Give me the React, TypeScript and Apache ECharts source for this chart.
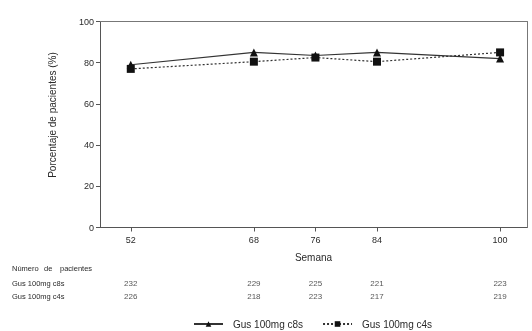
import React, { useEffect, useRef } from "react";
import * as echarts from "echarts";

const weeks = [52, 68, 76, 84, 100];
const c8sPct = [79, 85, 83.5, 85, 82];
const c4sPct = [77, 80.5, 82.5, 80.5, 85];
const c8sN = [232, 229, 225, 221, 223];
const c4sN = [226, 218, 223, 217, 219];
const seriesNames = ["Gus 100mg c8s", "Gus 100mg c4s"];

const FONT = "Liberation Sans, Arial, sans-serif";
const TXT = "#2a2a2a";
const AX = "#555";

export default function App() {
  const ref = useRef<HTMLDivElement>(null);
  useEffect(() => {
    if (!ref.current) return;
    const chart = echarts.init(ref.current, null, { renderer: "svg" });
    const tableData: any[] = [];
    weeks.forEach((w, i) => {
      tableData.push([w, seriesNames[0], c8sN[i]]);
      tableData.push([w, seriesNames[1], c4sN[i]]);
    });
    const frameAxis = {
      axisLine: { show: true, onZero: false, lineStyle: { color: "#777", width: 1 } },
      axisTick: { show: false },
      axisLabel: { show: false },
      splitLine: { show: false },
    };
    chart.setOption({
      animation: false,
      textStyle: { fontFamily: FONT, color: TXT },
      grid: [
        { left: 100, width: 427, top: 21.5, height: 206 },
        { left: 100, width: 427, top: 277, height: 26 },
      ],
      xAxis: [
        {
          type: "value",
          gridIndex: 0,
          min: 48,
          max: 103.5,
          name: "Semana",
          nameLocation: "middle",
          nameGap: 25,
          nameTextStyle: { fontSize: 10, color: TXT, fontFamily: FONT },
          splitLine: { show: false },
          axisLine: { show: true, onZero: false, lineStyle: { color: AX, width: 1 } },
          axisTick: {
            show: true,
            length: 4,
            customValues: weeks,
            lineStyle: { color: AX },
          },
          axisLabel: {
            customValues: weeks,
            fontSize: 9,
            color: TXT,
            margin: 8,
            fontFamily: FONT,
          },
        },
        {
          type: "value",
          gridIndex: 1,
          min: 48,
          max: 103.5,
          show: false,
          splitLine: { show: false },
        },
        {
          type: "value",
          gridIndex: 0,
          position: "top",
          min: 48,
          max: 103.5,
          ...frameAxis,
        },
      ],
      yAxis: [
        {
          type: "value",
          gridIndex: 0,
          min: 0,
          max: 100,
          interval: 20,
          splitLine: { show: false },
          axisLine: { show: true, onZero: false, lineStyle: { color: AX, width: 1 } },
          axisTick: { show: true, length: 4, lineStyle: { color: AX } },
          axisLabel: { fontSize: 9, color: TXT, margin: 6, fontFamily: FONT },
        },
        {
          type: "category",
          gridIndex: 1,
          data: seriesNames,
          inverse: true,
          axisLine: { show: false },
          axisTick: { show: false },
          splitLine: { show: false },
          axisLabel: {
            show: true,
            align: "left",
            margin: 88,
            fontSize: 7.5,
            color: TXT,
            fontFamily: FONT,
          },
        },
        {
          type: "value",
          gridIndex: 0,
          position: "right",
          min: 0,
          max: 100,
          ...frameAxis,
        },
      ],
      legend: {
        data: seriesNames,
        left: 188,
        top: 314,
        itemWidth: 29,
        itemHeight: 7,
        itemGap: 19,
        textStyle: { fontSize: 10, color: TXT, fontFamily: FONT, padding: [0, 0, 0, 5] },
      },
      graphic: [
        {
          type: "text",
          x: 52,
          y: 115,
          rotation: Math.PI / 2,
          style: {
            text: "Porcentaje de pacientes (%)",
            fontSize: 10,
            fontFamily: FONT,
            fill: TXT,
            align: "center",
            verticalAlign: "middle",
          },
        },
        { type: "text", x: 12, y: 268.5, style: { text: "Número", fontSize: 7.5, fontFamily: FONT, fill: TXT, verticalAlign: "middle" } },
        { type: "text", x: 44, y: 268.5, style: { text: "de", fontSize: 7.5, fontFamily: FONT, fill: TXT, verticalAlign: "middle" } },
        { type: "text", x: 60, y: 268.5, style: { text: "pacientes", fontSize: 7.5, fontFamily: FONT, fill: TXT, verticalAlign: "middle" } },
      ],
      series: [
        {
          name: seriesNames[0],
          type: "line",
          xAxisIndex: 0,
          yAxisIndex: 0,
          data: weeks.map((w, i) => [w, c8sPct[i]]),
          symbol: "triangle",
          symbolSize: 8,
          lineStyle: { color: "#333", width: 1.2, type: "solid" },
          itemStyle: { color: "#111" },
        },
        {
          name: seriesNames[1],
          type: "line",
          xAxisIndex: 0,
          yAxisIndex: 0,
          data: weeks.map((w, i) => [w, c4sPct[i]]),
          symbol: "rect",
          symbolSize: 8,
          lineStyle: { color: "#333", width: 1.2, type: [2, 2] },
          itemStyle: { color: "#111" },
        },
        {
          type: "scatter",
          xAxisIndex: 1,
          yAxisIndex: 1,
          data: tableData,
          symbolSize: 1,
          itemStyle: { color: "transparent" },
          silent: true,
          label: {
            show: true,
            position: "inside",
            formatter: (p: any) => String(p.value[2]),
            fontSize: 8,
            color: TXT,
            fontFamily: FONT,
          },
        },
      ],
    });
    return () => chart.dispose();
  }, []);
  return (
    <div
      ref={ref}
      style={{ position: "fixed", left: 0, top: 0, width: 532, height: 331 }}
    />
  );
}
